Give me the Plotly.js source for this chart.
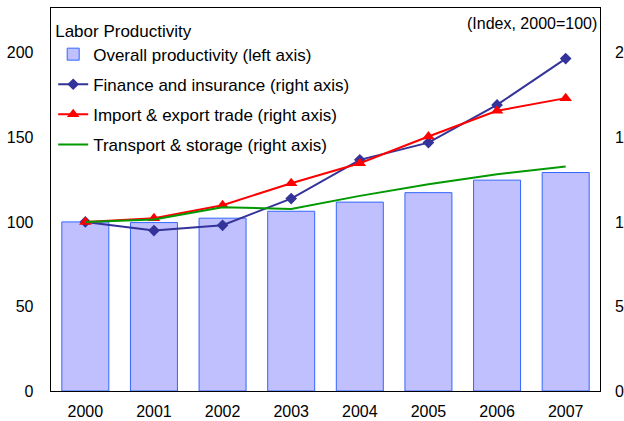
<!DOCTYPE html>
<html><head><meta charset="utf-8">
<script src="https://cdn.plot.ly/plotly-3.0.1.min.js"></script>
<style>html,body{margin:0;padding:0;overflow:hidden;width:624px;height:421px;background:#fff}#chart{width:660px;height:421px}</style>
</head><body><div id="chart"></div>
<script>
const years = ['2000','2001','2002','2003','2004','2005','2006','2007'];
const overall = [100, 99.6, 102.2, 106.3, 111.7, 117.3, 124.7, 129.2];
const finance = [100, 94.9, 98.0, 113.8, 136.7, 146.9, 169.2, 196.6];
const trade = [100, 102.2, 109.9, 122.9, 134.7, 150.5, 165.7, 173.2];
const transport = [100, 101.4, 108.7, 107.7, 115.4, 122.3, 128.2, 132.7];
const yTicks = [0, 50, 100, 150, 200];

const FONT = 'Liberation Sans, Arial, sans-serif';
const traces = [
  {type:'bar', x:years, y:overall, name:'Overall productivity (left axis)', legendgroup:'a',
   marker:{color:'#C0C0FF', line:{color:'#3366FF', width:1}}, yaxis:'y'},
  {type:'scatter', mode:'lines+markers', x:years, y:finance, name:'Finance and insurance (right axis)', legendgroup:'b',
   line:{color:'#333399', width:2}, marker:{symbol:'diamond', size:9, color:'#333399'}, yaxis:'y2'},
  {type:'scatter', mode:'lines+markers', x:years, y:trade, name:'Import & export trade (right axis)', legendgroup:'c',
   line:{color:'#FF0000', width:2}, marker:{symbol:'triangle-up', size:11, color:'#FF0000'}, yaxis:'y2'},
  {type:'scatter', mode:'lines', x:years, y:transport, name:'Transport & storage (right axis)', legendgroup:'d',
   line:{color:'#009900', width:2}, yaxis:'y2'}
];
const yr = [0, 226.5];
const layout = {
  width:660, height:421,
  margin:{l:51, r:60, t:8, b:30},
  paper_bgcolor:'#fff', plot_bgcolor:'#fff',
  font:{family:FONT, size:16, color:'#000'},
  bargap:0.315,
  showlegend:true,
  legend:{x:0.004, y:0.983, xanchor:'left', yanchor:'top', bgcolor:'rgba(0,0,0,0)',
    font:{family:FONT, size:17, color:'#000'}, tracegroupgap:5,
    title:{text:'Labor Productivity', font:{family:FONT, size:17, color:'#000'}}},
  xaxis:{type:'category', showline:true, linecolor:'#000', linewidth:1.3, mirror:true, ticks:'', showgrid:false,
    tickfont:{family:FONT, size:16, color:'#000'}, ticklabelstandoff:5},
  yaxis:{range:yr, tickvals:yTicks, showline:true, linecolor:'#000', linewidth:1.3, mirror:true,
    ticks:'', showgrid:false, zeroline:false, tickfont:{family:FONT, size:16, color:'#000'}, ticklabelstandoff:13},
  yaxis2:{range:yr, tickvals:yTicks, overlaying:'y', side:'right', showline:false, ticks:'',
    showgrid:false, zeroline:false, tickfont:{family:FONT, size:16, color:'#000'}, ticklabelstandoff:14},
  annotations:[{text:'(Index, 2000=100)', xref:'paper', yref:'paper', x:0.998, y:0.987,
    xanchor:'right', yanchor:'top', showarrow:false, font:{family:FONT, size:16, color:'#000'}}]
};
Plotly.newPlot('chart', traces, layout, {displayModeBar:false, staticPlot:true});
</script></body></html>
